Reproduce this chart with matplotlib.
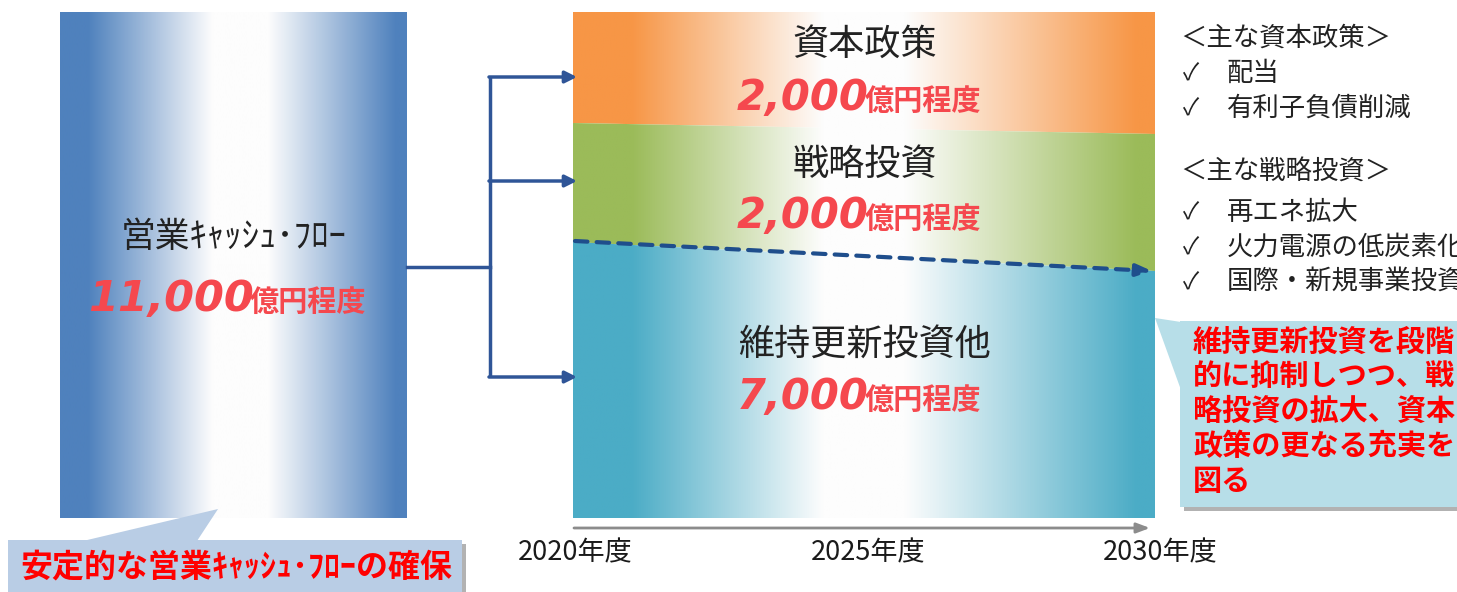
import numpy as np
import matplotlib.pyplot as plt
from matplotlib.colors import LinearSegmentedColormap
from matplotlib.patches import Polygon

plt.rcParams['font.family'] = ['Noto Sans CJK JP', 'DejaVu Sans']

# chart content
total_label = '営業ｷｬｯｼｭ･ﾌﾛｰ'
total_value = 11000
segments = ['資本政策', '戦略投資', '維持更新投資他']
segment_values = [2000, 2000, 7000]
segment_colors = ['#F79646', '#9BBB59', '#4BACC6']
unit = '億円程度'
years = ['2020年度', '2025年度', '2030年度']
policy_head = '＜主な資本政策＞'
policy_items = ['配当', '有利子負債削減']
invest_head = '＜主な戦略投資＞'
invest_items = ['再エネ拡大', '火力電源の低炭素化', '国際・新規事業投資']
note_left = '安定的な営業ｷｬｯｼｭ･ﾌﾛｰの確保'
note_right = '維持更新投資を段階\n的に抑制しつつ、戦\n略投資の拡大、資本\n政策の更なる充実を\n図る'

RED = '#F5484E'

fig = plt.figure(figsize=(14.57, 5.92), dpi=100)
ax = fig.add_axes([0, 0, 1, 1])


def grad_fill(poly_xy, color, stops):
    xs = [p[0] for p in poly_xy]
    ys = [p[1] for p in poly_xy]
    cmap = LinearSegmentedColormap.from_list(
        'g', [(s, color if c else '#FDFDFD') for s, c in stops])
    im = ax.imshow(np.linspace(0, 1, 512).reshape(1, -1), cmap=cmap, aspect='auto',
                   extent=(min(xs), max(xs), max(ys), min(ys)), interpolation='bilinear', zorder=1)
    poly = Polygon(poly_xy, closed=True, facecolor='none', edgecolor='none')
    ax.add_patch(poly)
    im.set_clip_path(poly)


# left bar
grad_fill([(60, 12), (407, 12), (407, 518), (60, 518)], '#4F81BD',
          [(0, 1), (0.08, 1), (0.44, 0), (0.6, 0), (0.97, 1), (1, 1)])

# stacked areas
x0, x1 = 573, 1155
bounds_left = [12, 123, 242, 518]
bounds_right = [12, 134, 271, 518]
stops = [(0, 1), (0.1, 1), (0.43, 0), (0.57, 0), (0.97, 1), (1, 1)]
for i, col in enumerate(segment_colors):
    grad_fill([(x0, bounds_left[i]), (x1, bounds_right[i]),
               (x1, bounds_right[i + 1]), (x0, bounds_left[i + 1])], col, stops)

# dashed arrow
ax.annotate('', xy=(1152, 271), xytext=(575, 241),
            arrowprops=dict(arrowstyle='-|>,head_length=0.9,head_width=0.35', color='#1F4E8C',
                            lw=3, linestyle=(0, (3, 2.2)), shrinkA=0, shrinkB=0), zorder=4)

# tree arrows
tree = '#2F5597'
ax.plot([407, 490], [267, 267], color=tree, lw=2.5, zorder=3)
ax.plot([490, 490], [77, 377], color=tree, lw=2.5, zorder=3, solid_capstyle='butt')
for yy in [77, 181, 377]:
    ax.annotate('', xy=(577, yy), xytext=(489, yy),
                arrowprops=dict(arrowstyle='-|>,head_length=0.7,head_width=0.35', color=tree,
                                lw=2.5, shrinkA=0, shrinkB=0), zorder=3)

# timeline
ax.annotate('', xy=(1150, 528), xytext=(574, 528),
            arrowprops=dict(arrowstyle='-|>,head_length=0.8,head_width=0.3', color='#8C8C8C',
                            lw=2, shrinkA=0, shrinkB=0), zorder=3)
for lbl, xx in zip(years, [575, 868, 1160]):
    ax.text(xx, 553, lbl, fontsize=19.5, ha='center', va='center', color='#1A1A1A')

# texts in the bar and areas
ax.text(234, 237, total_label, fontsize=25, ha='center', va='center', color='#222222', zorder=5)


def amount(x_split, y_base, value, size):
    ax.text(x_split, y_base, f'{value:,}', fontsize=size, fontweight='bold', style='italic',
            family='DejaVu Sans', color=RED, ha='right', va='baseline', zorder=5)
    ax.text(x_split - 4, y_base, unit, fontsize=21, fontweight='bold', color=RED,
            ha='left', va='baseline', zorder=5)


amount(254, 311, total_value, 31)
title_y = [45, 165, 345]
amount_y = [110, 228, 409]
for name, val, ty, ay in zip(segments, segment_values, title_y, amount_y):
    ax.text(865, ty, name, fontsize=26, ha='center', va='center', color='#222222', zorder=5)
    amount(869, ay, val, 30)

# right list
ax.text(1180, 38, policy_head, fontsize=19, ha='left', va='center', color='#222222')
for i, item in enumerate(policy_items):
    ax.text(1183, 73 + 35 * i, '✓', fontsize=17, ha='left', va='center', color='#222222')
    ax.text(1227, 73 + 35 * i, item, fontsize=19, ha='left', va='center', color='#222222')
ax.text(1180, 172, invest_head, fontsize=19, ha='left', va='center', color='#222222')
for i, item in enumerate(invest_items):
    ax.text(1183, 212 + 35 * i, '✓', fontsize=17, ha='left', va='center', color='#222222')
    ax.text(1227, 212 + 35 * i, item, fontsize=19, ha='left', va='center', color='#222222')

# callouts
def callout(box, tip, fc, text, tx, ty, size, ha='center'):
    shadow = Polygon([(x + 4, y + 4) for x, y in box], closed=True, facecolor='#7F7F7F',
                     edgecolor='none', alpha=0.6, zorder=6)
    ax.add_patch(shadow)
    ax.add_patch(Polygon(box, closed=True, facecolor=fc, edgecolor='none', zorder=7))
    ax.add_patch(Polygon(tip, closed=True, facecolor=fc, edgecolor='none', zorder=7))
    ax.text(tx, ty, text, fontsize=size, fontweight='bold', color='#FF0000', ha=ha, va='center',
            linespacing=1.2, zorder=8)


callout([(8, 540), (462, 540), (462, 600), (8, 600)],
        [(83, 541), (218, 509), (197, 541)], '#B9CDE5', note_left, 236, 567, 23)
callout([(1180, 321), (1470, 321), (1470, 507), (1180, 507)],
        [(1155, 318), (1181, 322), (1181, 390)], '#B7DEE8', note_right, 1193, 411, 21, ha='left')

ax.set_xlim(0, 1457)
ax.set_ylim(592, 0)
ax.axis('off')
fig.savefig('out.png', dpi=100)
